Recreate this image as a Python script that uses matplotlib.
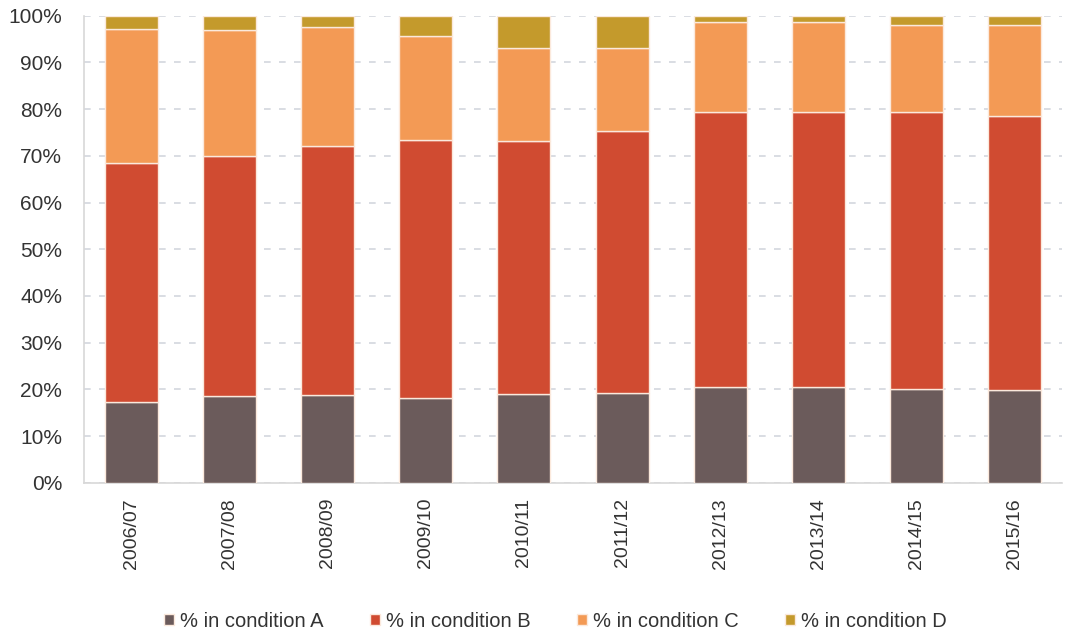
import numpy as np
import matplotlib
matplotlib.use("Agg")
import matplotlib.pyplot as plt
from matplotlib.ticker import PercentFormatter

plt.rcParams["font.family"] = ["Liberation Sans", "DejaVu Sans"]

years = ["2006/07", "2007/08", "2008/09", "2009/10", "2010/11",
         "2011/12", "2012/13", "2013/14", "2014/15", "2015/16"]
cond_a = [17.2, 18.6, 18.8, 18.1, 19.1, 19.3, 20.4, 20.4, 20.1, 19.8]
cond_b = [51.3, 51.4, 53.4, 55.3, 54.0, 56.1, 59.0, 59.0, 59.3, 58.8]
cond_c = [28.7, 27.0, 25.4, 22.2, 20.1, 17.8, 19.3, 19.3, 18.7, 19.5]
cond_d = [2.8, 3.0, 2.4, 4.4, 6.8, 6.8, 1.3, 1.3, 1.9, 1.9]

series = [
    ("% in condition A", cond_a, "#6b5b5b"),
    ("% in condition B", cond_b, "#d04b31"),
    ("% in condition C", cond_c, "#f39a55"),
    ("% in condition D", cond_d, "#c49a2c"),
]

fig = plt.figure(figsize=(10.68, 6.31), dpi=100)
ax = fig.add_axes([0.079, 0.235, 0.915, 0.74])

x = np.arange(len(years))
bottom = np.zeros(len(years))
for label, vals, color in series:
    ax.bar(x, vals, width=0.54, bottom=bottom, color=color, label=label,
           edgecolor="#fbe9dc", linewidth=1.0, zorder=3)
    bottom += np.array(vals)

ax.set_ylim(0, 100)
ax.set_xlim(-0.48, len(years) - 0.52)
ax.set_yticks(np.arange(0, 101, 10))
ax.yaxis.set_major_formatter(PercentFormatter(decimals=0))
ax.grid(axis="y", color="#d3d7de", linestyle=(0, (4, 5)), linewidth=1.2, zorder=0)

ax.set_xticks(x)
ax.set_xticklabels(years, rotation=90)
ax.tick_params(axis="both", length=0, labelsize=15, colors="#333333")
ax.tick_params(axis="y", pad=16)
ax.tick_params(axis="x", pad=11, labelsize=14)

for side in ["top", "right"]:
    ax.spines[side].set_visible(False)
for side in ["left", "bottom"]:
    ax.spines[side].set_color("#d8d8d8")
    ax.spines[side].set_linewidth(1.2)

fig.legend(loc="lower center", bbox_to_anchor=(0.52, -0.028), ncol=4, frameon=False,
           fontsize=14.5, handlelength=0.5, handleheight=0.5, handletextpad=0.3,
           columnspacing=2.3, labelcolor="#333333")

fig.savefig("out.png", dpi=100)
